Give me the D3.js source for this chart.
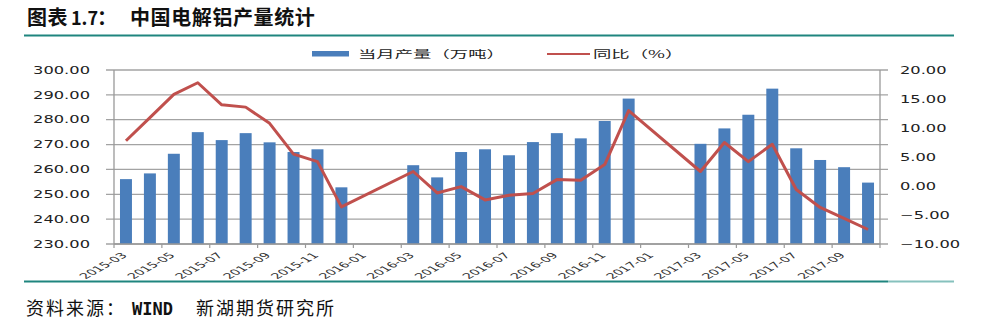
<!DOCTYPE html>
<html>
<head>
<meta charset="utf-8">
<script src="https://cdn.jsdelivr.net/npm/d3@7"></script>
<style>
  body { margin: 0; background: #fff; }
  svg { display: block; }
</style>
</head>
<body>
<div id="chart"></div>
<script>
// months on the category axis (data gaps in Jan/Feb)
const months = [
  "2015-03", "2015-04", "2015-05", "2015-06", "2015-07", "2015-08", "2015-09", "2015-10",
  "2015-11", "2015-12", "2016-01", "2016-02", "2016-03", "2016-04", "2016-05", "2016-06",
  "2016-07", "2016-08", "2016-09", "2016-10", "2016-11", "2016-12", "2017-01", "2017-02",
  "2017-03", "2017-04", "2017-05", "2017-06", "2017-07", "2017-08", "2017-09", "2017-10"
];
// 当月产量（万吨）
const output = [
  256.1, 258.4, 266.3, 275.0, 271.8, 274.6, 270.9, 267.0,
  268.1, 252.8, null, null, 261.7, 256.8, 267.0, 268.1,
  265.7, 271.0, 274.6, 272.5, 279.5, 288.5, null, null,
  270.3, 276.5, 282.0, 292.5, 268.5, 263.8, 260.9, 254.7
];
// 同比（%）
const yoy = [
  7.8, 11.8, 15.8, 17.8, 14.0, 13.6, 10.8, 5.5,
  4.2, -3.6, null, null, 2.5, -1.2, -0.1, -2.4,
  -1.6, -1.3, 1.1, 1.0, 3.7, 13.0, null, null,
  2.5, 7.5, 4.2, 7.2, -0.6, -3.7, -5.6, -7.5
];
const leftTicks = [230, 240, 250, 260, 270, 280, 290, 300];
const rightTicks = [-10, -5, 0, 5, 10, 15, 20];

const width = 994, height = 326;
const plot = { left: 114, right: 880, top: 70, bottom: 244 };
const blue = "#4a7ebb", red = "#c0504d", teal = "#1f857f";
const grid = "#a3a3a3";

const svg = d3.select("#chart").append("svg")
  .attr("width", width)
  .attr("height", height);

// chart image in the source is stretched sideways, so texts get an x-scale
function stretched(sel, x, y, sx, extra) {
  sel.attr("transform", `translate(${x},${y}) scale(${sx},1)` + (extra || ""));
}

const x = d3.scaleBand()
  .domain(months)
  .range([plot.left, plot.right])
  .paddingInner(0.5)
  .paddingOuter(0.25);
const cx = m => x(m) + x.bandwidth() / 2;
const edge = m => cx(m) - x.step() / 2;

const yL = d3.scaleLinear().domain([230, 300]).range([plot.bottom, plot.top]);
const yR = d3.scaleLinear().domain([-10, 20]).range([plot.bottom, plot.top]);

// title and rules
const title = svg.append("text")
  .attr("y", 25)
  .attr("font-family", "'Noto Sans CJK SC', sans-serif")
  .attr("font-weight", "bold")
  .attr("font-size", 20)
  .attr("letter-spacing", 0.6)
  .attr("fill", "#111");
title.append("tspan").attr("x", 27).text("图表");
title.append("tspan").attr("x", 71).attr("font-size", 18).attr("letter-spacing", 0).text("1.7");
title.append("tspan").attr("x", 97).text("：");
title.append("tspan").attr("x", 130).text("中国电解铝产量统计");

svg.append("line")
  .attr("x1", 24).attr("x2", 954).attr("y1", 35.5).attr("y2", 35.5)
  .attr("stroke", teal).attr("stroke-width", 2);
svg.append("line")
  .attr("x1", 24).attr("x2", 888).attr("y1", 281.5).attr("y2", 281.5)
  .attr("stroke", teal).attr("stroke-width", 2);
svg.append("line")
  .attr("x1", 888).attr("x2", 954).attr("y1", 281.5).attr("y2", 281.5)
  .attr("stroke", "#86c1bd").attr("stroke-width", 2);

// gridlines + ticks
svg.append("g")
  .selectAll("line")
  .data(leftTicks)
  .enter().append("line")
  .attr("x1", plot.left - 8).attr("x2", plot.right + 8)
  .attr("y1", d => yL(d)).attr("y2", d => yL(d))
  .attr("stroke", grid).attr("stroke-width", 1.3);

svg.append("line")
  .attr("x1", plot.left).attr("x2", plot.left)
  .attr("y1", plot.top).attr("y2", plot.bottom)
  .attr("stroke", "#999").attr("stroke-width", 1.3);
svg.append("line")
  .attr("x1", plot.right).attr("x2", plot.right)
  .attr("y1", plot.top).attr("y2", plot.bottom)
  .attr("stroke", "#999").attr("stroke-width", 1.3);

// axis labels
svg.append("g")
  .selectAll("text")
  .data(leftTicks)
  .enter().append("text")
  .attr("text-anchor", "end")
  .attr("dy", "0.36em")
  .attr("font-family", "'DejaVu Sans', sans-serif")
  .attr("font-size", 10.5)
  .attr("fill", "#222")
  .text(d => d3.format(".2f")(d))
  .each(function(d) { stretched(d3.select(this), 90, yL(d), 1.55); });

svg.append("g")
  .selectAll("text")
  .data(rightTicks)
  .enter().append("text")
  .attr("text-anchor", "start")
  .attr("dy", "0.36em")
  .attr("font-family", "'DejaVu Sans', sans-serif")
  .attr("font-size", 10.5)
  .attr("fill", "#222")
  .text(d => d3.format(".2f")(d))
  .each(function(d) { stretched(d3.select(this), 900, yR(d), 1.55); });

// category ticks every two months
const tickMonths = months.filter((m, i) => i % 2 === 0);
svg.append("g")
  .selectAll("line")
  .data(tickMonths.concat(["end"]))
  .enter().append("line")
  .attr("x1", d => d === "end" ? plot.right : edge(d))
  .attr("x2", d => d === "end" ? plot.right : edge(d))
  .attr("y1", plot.bottom).attr("y2", plot.bottom + 4)
  .attr("stroke", "#999").attr("stroke-width", 1.2);

svg.append("g")
  .selectAll("text")
  .data(tickMonths)
  .enter().append("text")
  .attr("text-anchor", "end")
  .attr("font-family", "'DejaVu Sans', sans-serif")
  .attr("font-size", 8)
  .attr("fill", "#333")
  .text(d => d)
  .each(function(d) { stretched(d3.select(this), cx(d) + 2, 256, 1.8, " rotate(-45)"); });

// bars
svg.append("g")
  .selectAll("rect")
  .data(months.map((m, i) => ({ m, v: output[i] })).filter(d => d.v != null))
  .enter().append("rect")
  .attr("x", d => x(d.m))
  .attr("width", x.bandwidth())
  .attr("y", d => yL(d.v))
  .attr("height", d => yL(230) - yL(d.v))
  .attr("fill", blue);

// axis baseline over bars
svg.append("line")
  .attr("x1", plot.left).attr("x2", plot.right)
  .attr("y1", plot.bottom).attr("y2", plot.bottom)
  .attr("stroke", "#999").attr("stroke-width", 1.3);

// yoy line (gaps are bridged like in the source)
const linePts = months.map((m, i) => ({ m, v: yoy[i] })).filter(d => d.v != null);
svg.append("path")
  .datum(linePts)
  .attr("fill", "none")
  .attr("stroke", red)
  .attr("stroke-width", 3)
  .attr("stroke-linejoin", "round")
  .attr("d", d3.line().x(d => cx(d.m)).y(d => yR(d.v)));

// legend
svg.append("rect")
  .attr("x", 312).attr("y", 51).attr("width", 37).attr("height", 5.5)
  .attr("fill", blue);
svg.append("text")
  .attr("dy", "0.36em")
  .attr("font-family", "'Noto Sans CJK SC', sans-serif")
  .attr("font-size", 10.5)
  .attr("fill", "#222")
  .text("当月产量（万吨）")
  .call(s => stretched(s, 358, 54, 1.75));
svg.append("line")
  .attr("x1", 547).attr("x2", 590).attr("y1", 54).attr("y2", 54)
  .attr("stroke", red).attr("stroke-width", 2);
svg.append("text")
  .attr("dy", "0.36em")
  .attr("font-family", "'Noto Sans CJK SC', sans-serif")
  .attr("font-size", 10.5)
  .attr("fill", "#222")
  .text("同比（%）")
  .call(s => stretched(s, 593, 54, 1.75));

// source note
const note = svg.append("text")
  .attr("y", 315)
  .attr("font-family", "'Noto Sans CJK SC', sans-serif")
  .attr("font-size", 18)
  .attr("fill", "#111");
note.append("tspan").attr("x", 26).attr("letter-spacing", 2).text("资料来源：");
note.append("tspan").attr("x", 132)
  .attr("font-family", "'DejaVu Sans Mono', monospace")
  .attr("font-weight", "bold")
  .attr("font-size", 17)
  .text("WIND");
note.append("tspan").attr("x", 196).attr("letter-spacing", 2).text("新湖期货研究所");
</script>
</body>
</html>
